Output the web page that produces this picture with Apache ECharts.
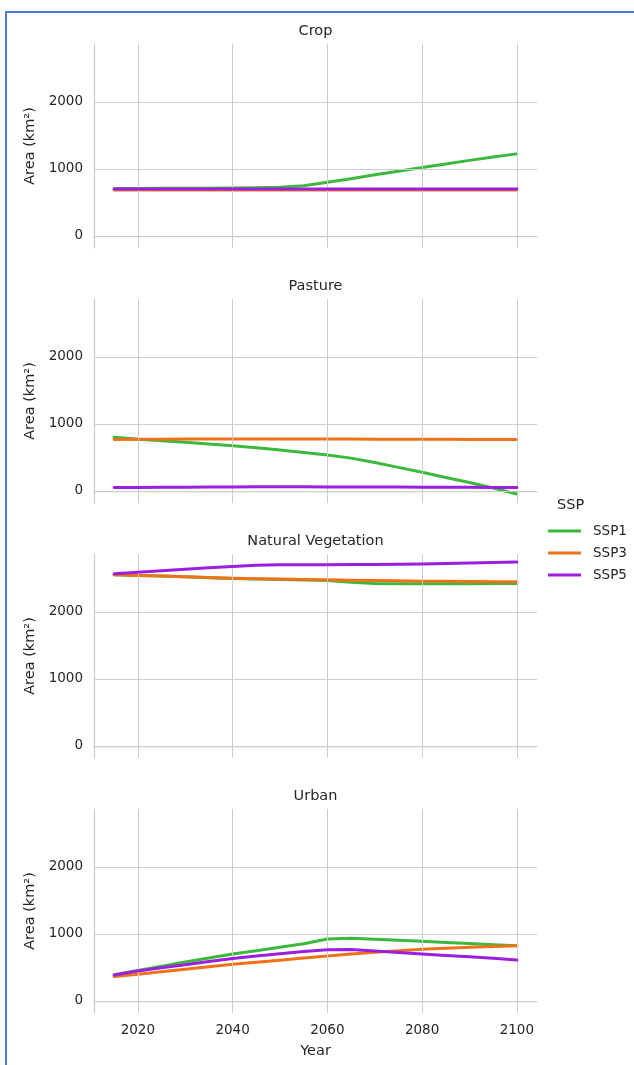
<!DOCTYPE html>
<html>
<head>
<meta charset="utf-8">
<script src="https://cdn.jsdelivr.net/npm/echarts@6/dist/echarts.min.js"></script>
<style>
  html, body { margin: 0; padding: 0; background: #ffffff; }
  #chart { width: 634px; height: 1065px; }
  #frame {
    position: absolute; left: 5px; top: 11px; right: 0; bottom: 0;
    border-left: 2px solid #4d7ad6; border-top: 2px solid #4d7ad6;
    pointer-events: none;
  }
</style>
</head>
<body>
<div id="chart"></div>
<div id="frame"></div>
<script>
// Land-use area projections per SSP scenario, one panel per land class
const years = [2015, 2020, 2025, 2030, 2035, 2040, 2045, 2050, 2055, 2060,
               2065, 2070, 2075, 2080, 2085, 2090, 2095, 2100];
const yearTicks = [2020, 2040, 2060, 2080, 2100];
const areaTicks = [0, 1000, 2000];
const panels = ['Crop', 'Pasture', 'Natural Vegetation', 'Urban'];
const scenarios = ['SSP1', 'SSP3', 'SSP5'];

const cropSSP1 = [708, 709, 710, 711, 713, 716, 719, 726, 750, 800, 855, 912, 965, 1020, 1075, 1128, 1178, 1225];
const cropSSP3 = [686, 686, 686, 686, 686, 686, 686, 686, 686, 686, 686, 686, 686, 686, 686, 686, 686, 686];
const cropSSP5 = [700, 700, 700, 701, 701, 701, 701, 701, 701, 701, 701, 701, 701, 701, 701, 701, 700, 700];

const pastureSSP1 = [800, 770, 748, 725, 700, 675, 645, 610, 575, 535, 490, 425, 352, 278, 200, 125, 45, -45];
const pastureSSP3 = [768, 770, 772, 774, 775, 776, 776, 776, 775, 775, 774, 773, 772, 771, 770, 769, 768, 768];
const pastureSSP5 = [50, 52, 54, 56, 58, 60, 62, 62, 61, 60, 59, 58, 57, 56, 55, 54, 53, 52];

const naturalSSP1 = [2554, 2545, 2535, 2525, 2512, 2500, 2492, 2485, 2478, 2470, 2445, 2425, 2421, 2420, 2421, 2422, 2423, 2424];
const naturalSSP3 = [2554, 2545, 2535, 2525, 2514, 2504, 2497, 2490, 2485, 2479, 2474, 2469, 2464, 2459, 2457, 2454, 2452, 2449];
const naturalSSP5 = [2570, 2593, 2615, 2637, 2658, 2680, 2698, 2703, 2705, 2705, 2707, 2710, 2712, 2715, 2722, 2730, 2737, 2744];

const urbanSSP1 = [390, 455, 518, 580, 640, 700, 750, 800, 855, 925, 935, 922, 906, 890, 872, 856, 840, 825];
const urbanSSP3 = [363, 398, 435, 472, 510, 547, 578, 608, 640, 672, 700, 725, 748, 771, 785, 800, 812, 825];
const urbanSSP5 = [388, 448, 495, 540, 588, 632, 670, 705, 738, 765, 768, 745, 722, 700, 680, 660, 637, 610];

const panelValues = [
  [cropSSP1, cropSSP3, cropSSP5],
  [pastureSSP1, pastureSSP3, pastureSSP5],
  [naturalSSP1, naturalSSP3, naturalSSP5],
  [urbanSSP1, urbanSSP3, urbanSSP5]
];

const colors = ['#3cb83c', '#f07218', '#9b1fe0'];
const textColor = '#262626';
const gridColor = '#cccccc';
const font = 'DejaVu Sans';

const plotLeft = 94, plotWidth = 443, plotHeight = 204;
const plotTops = [44, 299, 554, 809];
const xRange = [2010.75, 2104.25];
const yRange = [-180, 2865];

const plain = v => String(v);
const grids = [], xAxes = [], yAxes = [], series = [], titles = [];

panels.forEach((name, p) => {
  const last = p === panels.length - 1;
  grids.push({ left: plotLeft, top: plotTops[p], width: plotWidth, height: plotHeight, outerBoundsMode: 'none' });
  titles.push({
    text: name, left: plotLeft + plotWidth / 2, top: plotTops[p] - 20, textAlign: 'center', padding: 0,
    textStyle: { fontFamily: font, fontSize: 14.5, fontWeight: 'normal', color: textColor }
  });
  xAxes.push({
    gridIndex: p, type: 'value', min: xRange[0], max: xRange[1],
    axisLine: { show: true, lineStyle: { color: gridColor, width: 1.25 } },
    axisTick: { show: false },
    splitLine: { show: false },
    axisLabel: {
      show: last, customValues: yearTicks, margin: 10, formatter: plain,
      fontFamily: font, fontSize: 13.5, color: textColor
    },
    name: last ? 'Year' : '', nameLocation: 'middle', nameGap: 31,
    nameTextStyle: { fontFamily: font, fontSize: 14.5, color: textColor }
  });
  yAxes.push({
    gridIndex: p, type: 'value', min: yRange[0], max: yRange[1],
    axisLine: { show: true, lineStyle: { color: gridColor, width: 1.25 } },
    axisTick: { show: false },
    splitLine: { show: false },
    axisLabel: {
      customValues: areaTicks, margin: 11, formatter: plain,
      fontFamily: font, fontSize: 13.5, color: textColor
    },
    name: 'Area (km²)', nameLocation: 'middle', nameGap: 56,
    nameTextStyle: { fontFamily: font, fontSize: 14.5, color: textColor }
  });
  // grid lines at the tick values
  series.push({
    type: 'line', xAxisIndex: p, yAxisIndex: p, data: [], z: 1, silent: true,
    markLine: {
      silent: true, symbol: 'none', animation: false,
      label: { show: false },
      lineStyle: { color: gridColor, width: 1, type: 'solid' },
      data: areaTicks.map(v => ({ yAxis: v })).concat(yearTicks.map(v => ({ xAxis: v })))
    }
  });
  scenarios.forEach((s, k) => {
    series.push({
      name: s, type: 'line', xAxisIndex: p, yAxisIndex: p, z: 3 + k,
      data: years.map((yr, i) => [yr, panelValues[p][k][i]]),
      showSymbol: false, symbol: 'none', smooth: false,
      lineStyle: { color: colors[k], width: 3, cap: 'round', join: 'round' },
      itemStyle: { color: colors[k] },
      animation: false
    });
  });
});

const chart = echarts.init(document.getElementById('chart'), null, { renderer: 'canvas' });
chart.setOption({
  backgroundColor: '#ffffff',
  animation: false,
  title: titles,
  grid: grids,
  xAxis: xAxes,
  yAxis: yAxes,
  legend: {
    data: scenarios, orient: 'vertical', left: 543, top: 518,
    itemWidth: 33, itemHeight: 3, itemGap: 6, icon: 'rect',
    textStyle: { fontFamily: font, fontSize: 13.5, color: textColor, lineHeight: 16, padding: [0, 0, 0, 7] }
  },
  graphic: [{
    type: 'text', left: 571 - 14, top: 498,
    style: { text: 'SSP', font: '14.5px "DejaVu Sans"', fill: textColor }
  }],
  series: series
});
</script>
</body>
</html>
